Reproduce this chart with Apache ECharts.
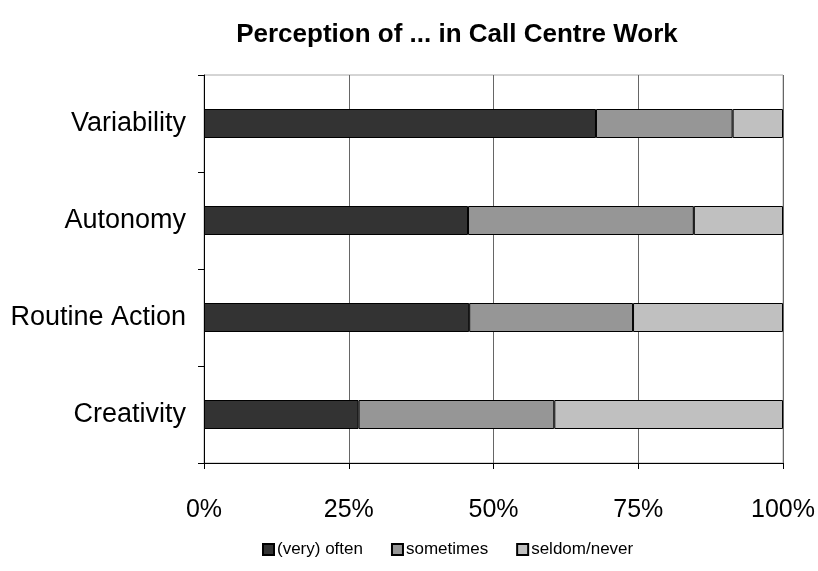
<!DOCTYPE html>
<html>
<head>
<meta charset="utf-8">
<script src="https://cdn.jsdelivr.net/npm/echarts@6/dist/echarts.min.js"></script>
<style>
  html, body { margin: 0; padding: 0; background: #fff; }
  #chart { width: 818px; height: 571px; }
</style>
</head>
<body>
<div id="chart"></div>
<script>
// categories bottom to top
var categories = ['Creativity', 'Routine Action', 'Autonomy', 'Variability'];
var often = [26.7, 45.8, 45.6, 67.7];
var sometimes = [33.8, 28.3, 39.0, 23.6];
var seldom = [39.5, 25.9, 15.4, 8.7];
var xTicks = [0, 25, 50, 75, 100];

var font = 'Liberation Sans, Arial, sans-serif';
var myChart = echarts.init(document.getElementById('chart'));

function bar(name, data, color) {
    return {
        name: name,
        type: 'bar',
        stack: 'total',
        barWidth: 29,
        data: data,
        itemStyle: { color: color, borderColor: '#000', borderWidth: 1 }
    };
}

var option = {
    backgroundColor: '#fff',
    animation: false,
    title: {
        text: 'Perception of ... in Call Centre Work',
        left: 452,
        textAlign: 'center',
        top: 17,
        textStyle: { fontFamily: font, fontSize: 26, fontWeight: 'bold', color: '#000' }
    },
    legend: {
        top: 541,
        left: 262,
        padding: 0,
        itemWidth: 11,
        itemHeight: 11,
        icon: 'rect',
        itemGap: 28,
        textStyle: { fontFamily: font, fontSize: 17, color: '#000', padding: [0, 0, 0, -2] },
        data: ['(very) often', 'sometimes', 'seldom/never']
    },
    grid: {
        left: 204, right: 35, top: 75, bottom: 108,
        show: true, borderColor: '#aaa', borderWidth: 1
    },
    xAxis: {
        type: 'value',
        min: xTicks[0],
        max: xTicks[xTicks.length - 1],
        interval: 25,
        axisLine: { show: true, lineStyle: { color: '#000', width: 1 } },
        axisTick: { show: true, length: 6, lineStyle: { color: '#000' } },
        axisLabel: {
            formatter: '{value}%', fontFamily: font, fontSize: 25, color: '#000', margin: 35
        },
        splitLine: { show: true, lineStyle: { color: '#666', width: 1 } }
    },
    yAxis: {
        type: 'category',
        data: categories,
        axisLine: { show: true, lineStyle: { color: '#000', width: 1 } },
        axisTick: { show: true, length: 6, lineStyle: { color: '#000' } },
        axisLabel: { fontFamily: font, fontSize: 27, color: '#000', margin: 18 }
    },
    series: [
        bar('(very) often', often, '#333333'),
        bar('sometimes', sometimes, '#969696'),
        bar('seldom/never', seldom, '#c0c0c0')
    ]
};

option && myChart.setOption(option);
</script>
</body>
</html>
